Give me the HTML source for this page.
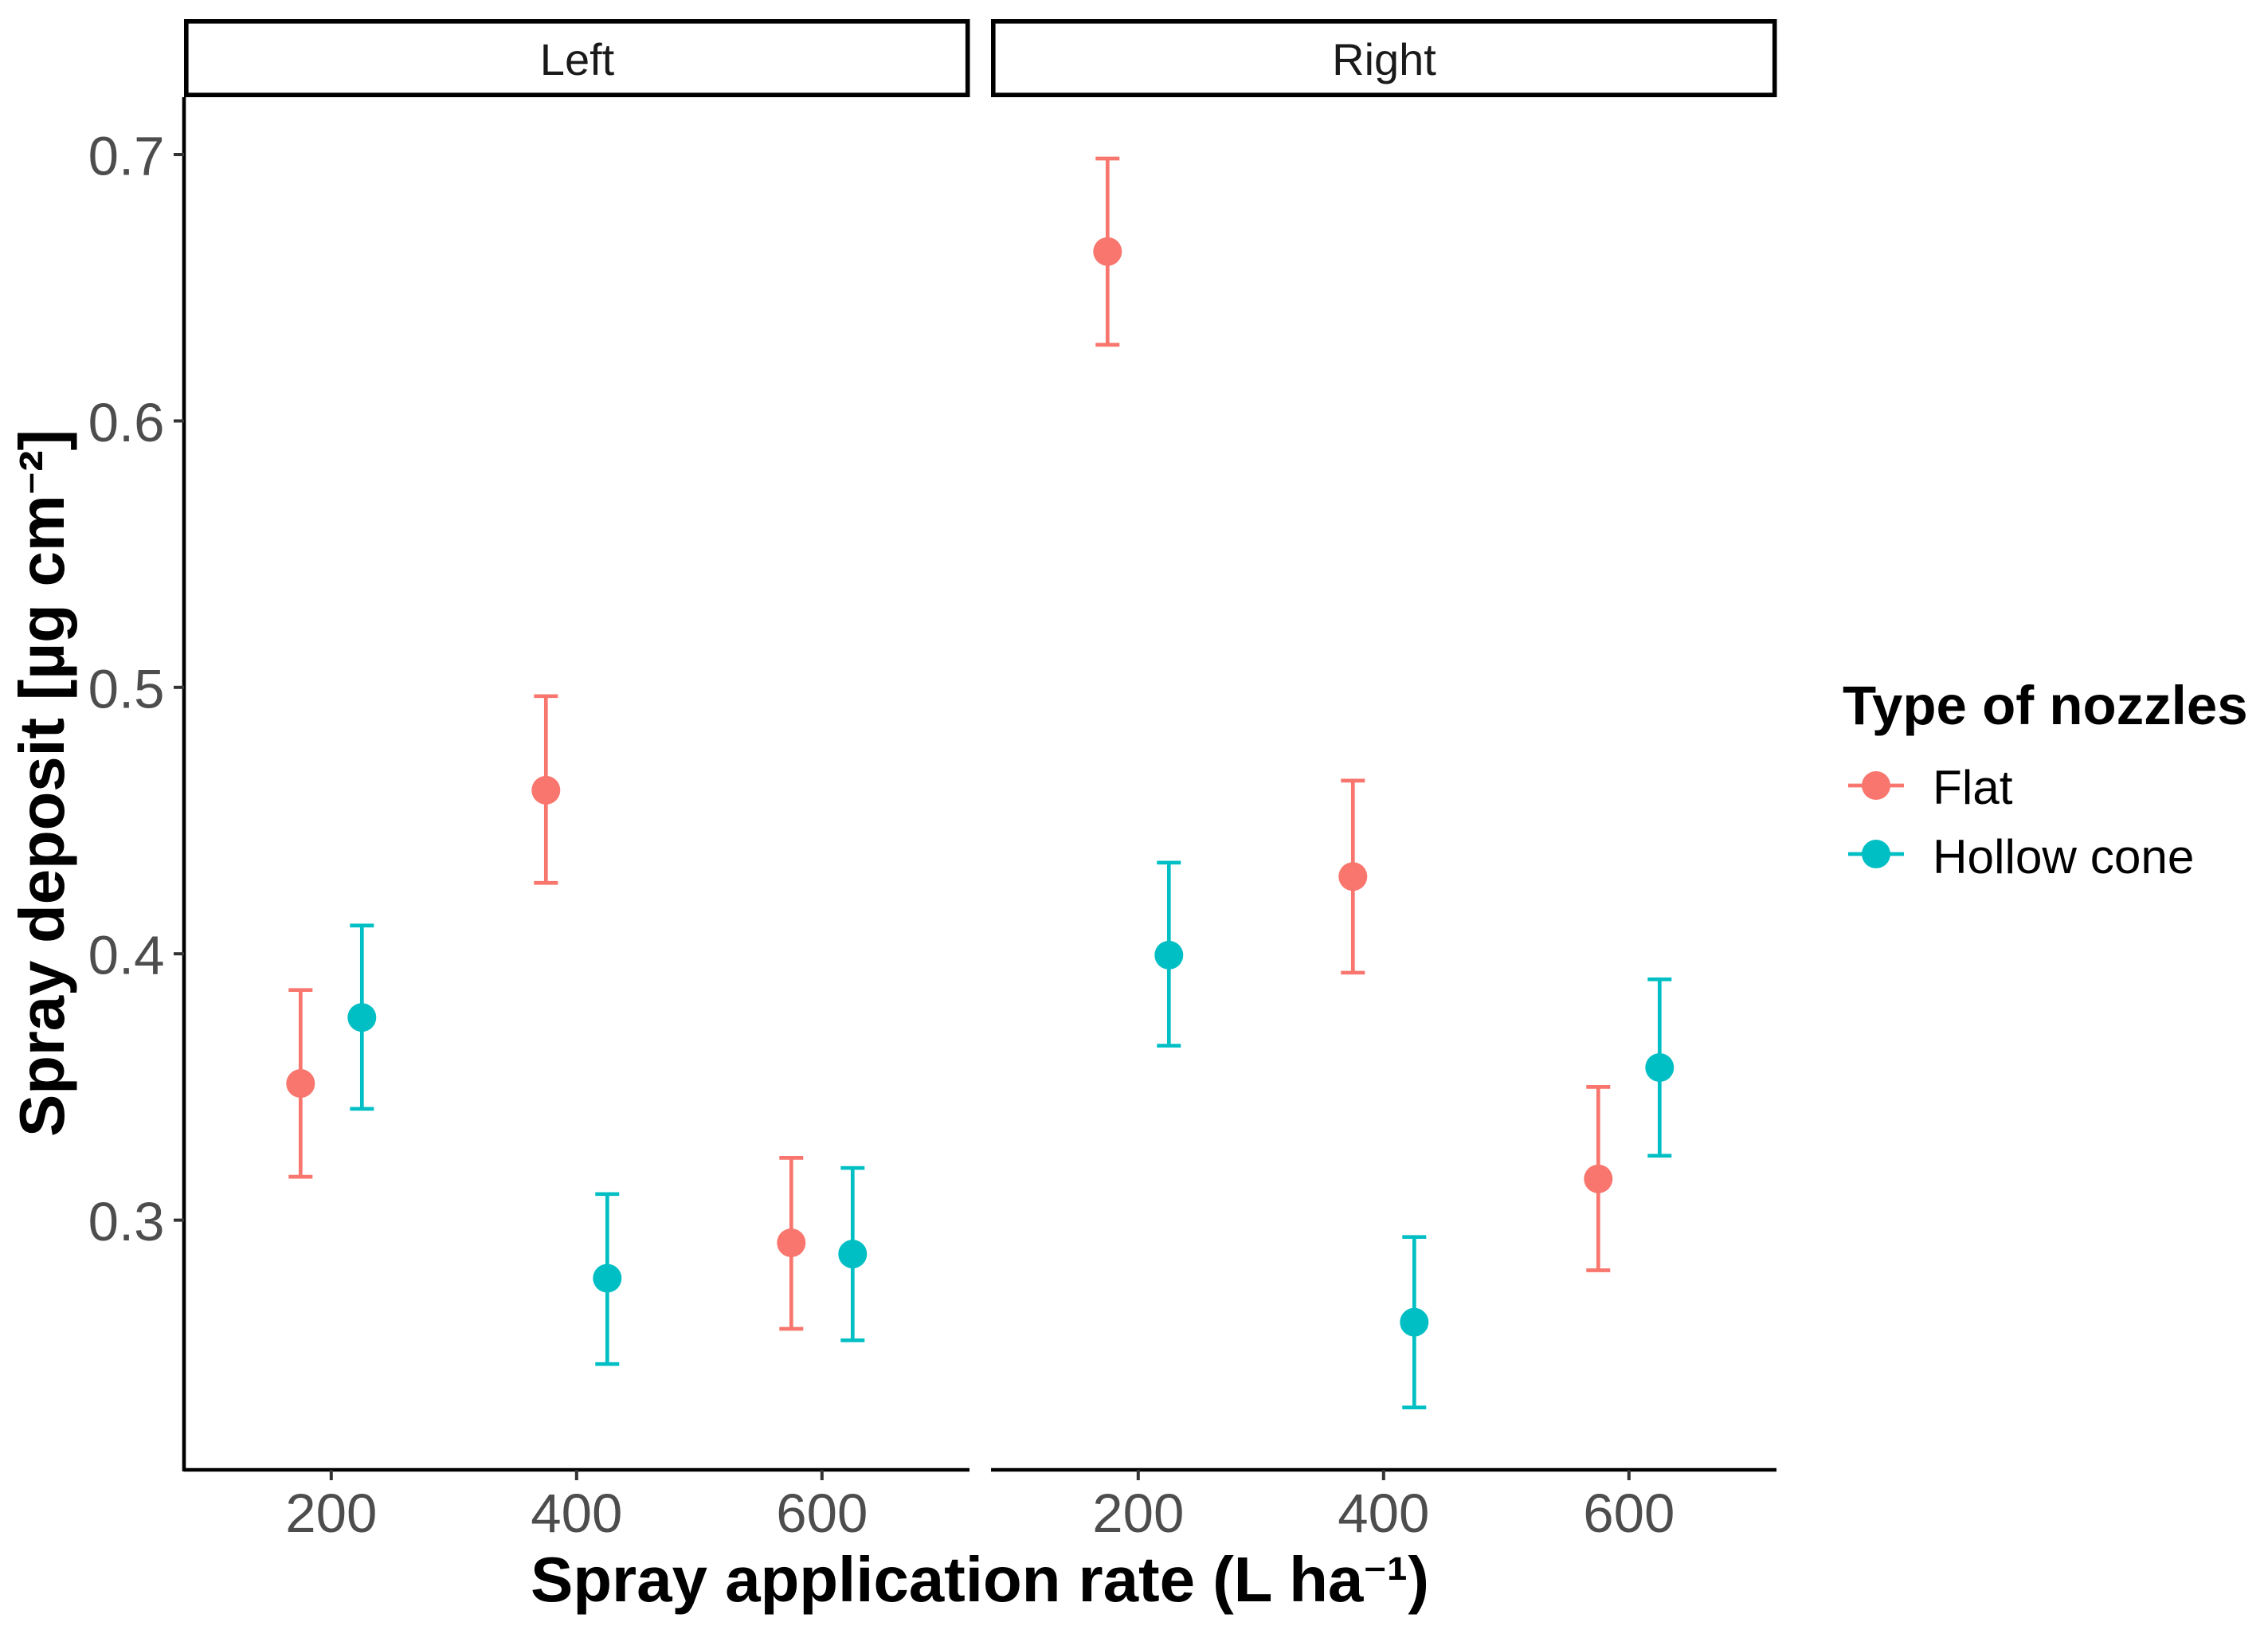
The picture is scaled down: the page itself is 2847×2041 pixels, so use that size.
<!DOCTYPE html>
<html>
<head>
<meta charset="utf-8">
<title>Spray deposit by application rate</title>
<style>
html,body{margin:0;padding:0;background:#fff;width:2847px;height:2041px;overflow:hidden}
svg{display:block;font-family:"Liberation Sans",Arial,sans-serif}
</style>
</head>
<body>
<svg id="chart" xmlns="http://www.w3.org/2000/svg" width="2847" height="2041" viewBox="0 0 2847 2041">
  <rect x="0" y="0" width="2847" height="2041" fill="#ffffff"/>
  <text x="1230" y="2010" text-anchor="middle" font-size="80" font-weight="700" fill="#000" textLength="1128" lengthAdjust="spacing">Spray application rate (L ha<tspan font-size="56" dy="-12">⁻</tspan><tspan dy="12">¹</tspan>)</text>
  <text transform="translate(80 983) rotate(-90)" text-anchor="middle" font-size="80" font-weight="700" fill="#000" textLength="888" lengthAdjust="spacing">Spray deposit [µg cm<tspan font-size="56" dy="-12">⁻</tspan><tspan dy="12">²</tspan>]</text>
  <g>
    <text x="2313" y="909" font-size="69" font-weight="700" fill="#000">Type of nozzles</text>
    <g>
      <line x1="2320" x2="2390" y1="986" y2="986" stroke="#F8766D" stroke-width="4.7"/>
      <circle cx="2355" cy="986" r="18" fill="#F8766D"/>
      <text x="2426" y="1009" font-size="60.3" fill="#000">Flat</text>
    </g>
    <g>
      <line x1="2320" x2="2390" y1="1072" y2="1072" stroke="#00BFC4" stroke-width="4.7"/>
      <circle cx="2355" cy="1072" r="18" fill="#00BFC4"/>
      <text x="2426" y="1096" font-size="60.3" fill="#000">Hollow cone</text>
    </g>
  </g>
</svg>
<script>
const panelNames = ['Left', 'Right'];
const xTicks = [200, 400, 600];
const yTicks = [0.3, 0.4, 0.5, 0.6, 0.7];
const yTickLabels = ['0.3', '0.4', '0.5', '0.6', '0.7'];
const flatRates = [175, 375, 575];
const hollowRates = [225, 425, 625];

const flatLeftMean = [0.3513, 0.4614, 0.2915];
const flatLeftLower = [0.3163, 0.4266, 0.2592];
const flatLeftUpper = [0.3864, 0.4967, 0.3234];
const hollowLeftMean = [0.3761, 0.2782, 0.2873];
const hollowLeftLower = [0.3418, 0.246, 0.2549];
const hollowLeftUpper = [0.4106, 0.3098, 0.3196];

const flatRightMean = [0.6636, 0.429, 0.3155];
const flatRightLower = [0.6286, 0.3929, 0.2812];
const flatRightUpper = [0.6985, 0.465, 0.35];
const hollowRightMean = [0.3995, 0.2617, 0.3573];
const hollowRightLower = [0.3655, 0.2297, 0.3242];
const hollowRightUpper = [0.4342, 0.2937, 0.3904];

const svg = document.getElementById('chart');
const NS = 'http://www.w3.org/2000/svg';
const panelLeftEdge = [231, 1244];
const panelWidth = 986;
const panelTop = 122;
const panelBottom = 1845;

function xScale(v, p) { return panelLeftEdge[p] + (v - 80) * 1.54; }
function yScale(v) { return 194 + (0.7 - v) * 3344; }
function mk(tag, attrs, parent) {
  const el = document.createElementNS(NS, tag);
  for (const k in attrs) el.setAttribute(k, attrs[k]);
  (parent || svg).appendChild(el);
  return el;
}

panelNames.forEach(function (name, p) {
  const left = panelLeftEdge[p];
  const key = name.toLowerCase();

  const strip = mk('rect', { x: left + 2.8, y: 26.8, width: panelWidth - 5.6 + 0.5, height: 92.4, fill: '#fff', stroke: '#000', 'stroke-width': 5.6 });
  
  

  const stripText = mk('text', { x: left + panelWidth / 2 + 0.5, y: 94, 'text-anchor': 'middle', 'font-size': 56, fill: '#1A1A1A' });
  stripText.textContent = name;
  
  

  const xAxis = mk('line', { x1: left, x2: left + panelWidth, y1: panelBottom, y2: panelBottom, stroke: '#000', 'stroke-width': 4.6 });
  
  

  xTicks.forEach(function (t) {
    const tx = xScale(t, p);
    const tick = mk('line', { x1: tx, x2: tx, y1: panelBottom, y2: 1858, stroke: '#333', 'stroke-width': 4 });
    
    
    const label = mk('text', { x: tx, y: 1923, 'text-anchor': 'middle', 'font-size': 69, fill: '#4D4D4D' });
    label.textContent = String(t);
    
    
  });
});

const yAxis = mk('line', { x1: 231, x2: 231, y1: panelTop, y2: panelBottom + 2, stroke: '#000', 'stroke-width': 4.6 });



yTicks.forEach(function (t, i) {
  const ty = yScale(t);
  const tick = mk('line', { x1: 218, x2: 231, y1: ty, y2: ty, stroke: '#333', 'stroke-width': 4 });
  
  
  const label = mk('text', { x: 206.5, y: ty + 25.5, 'text-anchor': 'end', 'font-size': 69, fill: '#4D4D4D' });
  label.textContent = yTickLabels[i];
  
  
});

function drawSeries(seriesKey, color, rates, mean, lower, upper, p) {
  rates.forEach(function (r, i) {
    const cx = xScale(r, p);
    const yLo = yScale(lower[i]);
    const yHi = yScale(upper[i]);
    const prefix = seriesKey + '-' + panelNames[p].toLowerCase() + '-' + r;
    const group = mk('g', {});
    
    
    const stem = mk('line', { x1: cx, x2: cx, y1: yHi, y2: yLo, stroke: color, 'stroke-width': 4.7 }, group);
    
    
    const capTop = mk('line', { x1: cx - 15, x2: cx + 15, y1: yHi, y2: yHi, stroke: color, 'stroke-width': 4.7 }, group);
    
    
    const capBottom = mk('line', { x1: cx - 15, x2: cx + 15, y1: yLo, y2: yLo, stroke: color, 'stroke-width': 4.7 }, group);
    
    
    const dot = mk('circle', { cx: cx, cy: yScale(mean[i]), r: 18, fill: color }, group);
    
    
  });
}

drawSeries('flat', '#F8766D', flatRates, flatLeftMean, flatLeftLower, flatLeftUpper, 0);
drawSeries('hollow-cone', '#00BFC4', hollowRates, hollowLeftMean, hollowLeftLower, hollowLeftUpper, 0);
drawSeries('flat', '#F8766D', flatRates, flatRightMean, flatRightLower, flatRightUpper, 1);
drawSeries('hollow-cone', '#00BFC4', hollowRates, hollowRightMean, hollowRightLower, hollowRightUpper, 1);
</script>
</body>
</html>
